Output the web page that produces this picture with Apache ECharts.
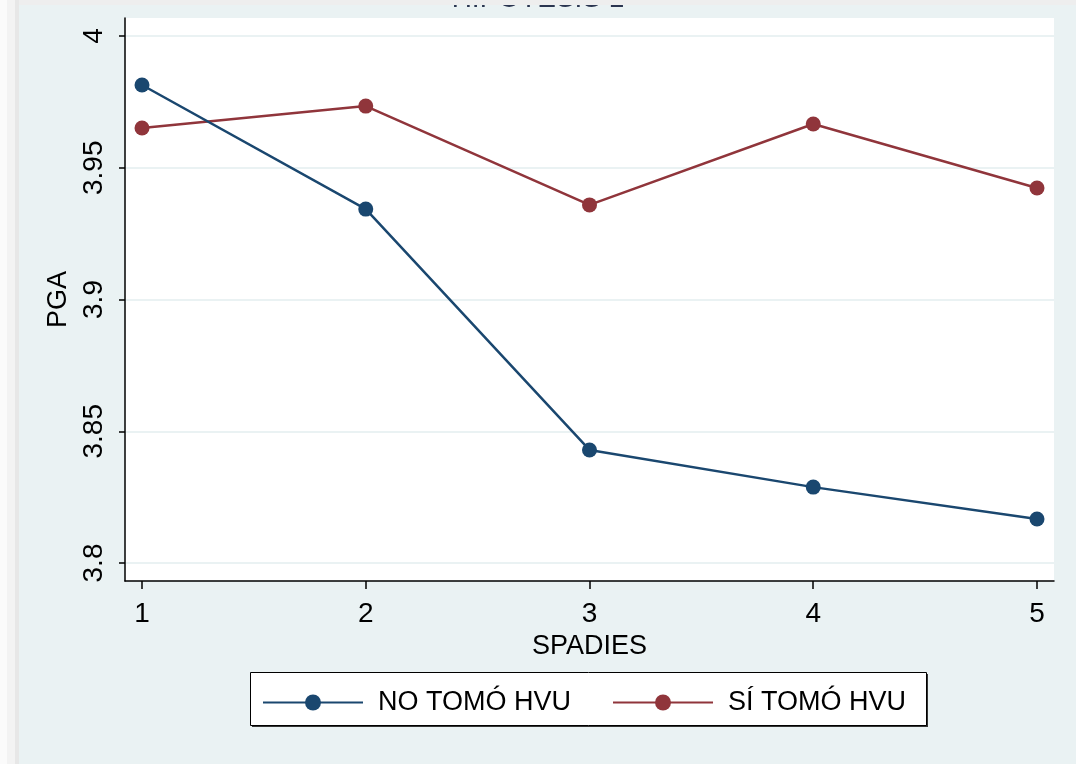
<!DOCTYPE html>
<html>
<head>
<meta charset="utf-8">
<script src="https://cdn.jsdelivr.net/npm/echarts@6/dist/echarts.min.js"></script>
<style>
html,body{margin:0;padding:0;width:1076px;height:764px;overflow:hidden;}
body{background:linear-gradient(to right,#fbfbfb 0,#fbfbfb 7px,#f3f3f3 7px,#f3f3f3 15px,#e7e7e7 15px,#e7e7e7 19px,#eaf2f3 19px);}
#chart{width:1076px;height:764px;}
</style>
</head>
<body>
<div id="chart"></div>
<script>
const title = 'HIPÓTESIS 1';
const categories = [1, 2, 3, 4, 5];
const seriesNames = ['NO TOMÓ HVU', 'SÍ TOMÓ HVU'];
const noTomo = [3.9814, 3.9343, 3.8429, 3.8288, 3.8167];
const siTomo = [3.9651, 3.9734, 3.9359, 3.9666, 3.9423];
const yTicks = [3.8, 3.85, 3.9, 3.95, 4];
const xTicks = [1, 2, 3, 4, 5];
const yTitle = 'PGA';
const xTitle = 'SPADIES';

const font = 'Liberation Sans, Arial, sans-serif';
const chart = echarts.init(document.getElementById('chart'), null, {renderer: 'canvas'});

function pairs(vals) { return categories.map((c, i) => [c, vals[i]]); }

chart.setOption({
  backgroundColor: 'transparent',
  animation: false,
  title: {
    text: title,
    left: 'center',
    top: -20,
    textStyle: {fontFamily: font, fontSize: 28, fontWeight: 'normal', color: '#2a3550'}
  },
  grid: {
    left: 125, right: 22, top: 18, bottom: 183,
    show: true, backgroundColor: '#ffffff', borderWidth: 0,
    containLabel: false
  },
  xAxis: {
    type: 'value',
    min: 0.924, max: 5.076,
    name: xTitle,
    nameLocation: 'middle',
    nameGap: 45,
    nameTextStyle: {fontFamily: font, fontSize: 27, color: '#000'},
    axisLine: {show: true, onZero: false, lineStyle: {color: '#000', width: 1.5}},
    axisTick: {show: true, length: 8, lineStyle: {color: '#000', width: 1.5}, customValues: xTicks},
    axisLabel: {fontFamily: font, fontSize: 28, color: '#000', margin: 19, customValues: xTicks},
    splitLine: {show: false}
  },
  yAxis: {
    type: 'value',
    min: 3.79317, max: 4.00683,
    name: yTitle,
    nameLocation: 'middle',
    nameGap: 33,
    nameRotate: 90,
    nameTextStyle: {fontFamily: font, fontSize: 27, color: '#000'},
    axisLine: {show: true, onZero: false, lineStyle: {color: '#000', width: 1.5}},
    axisTick: {show: true, length: 6, lineStyle: {color: '#000', width: 1.5}, customValues: yTicks},
    axisLabel: {fontFamily: font, fontSize: 28, color: '#000', margin: 17, rotate: 90, customValues: yTicks,
      formatter: v => String(+v.toFixed(2))},
    splitLine: {show: true, lineStyle: {color: '#eaf2f3', width: 2}}
  },
  legend: {
    data: seriesNames,
    left: 257,
    top: 684,
    itemWidth: 100,
    itemHeight: 20,
    itemGap: 41,
    textStyle: {fontFamily: font, fontSize: 27, color: '#000', padding: [0, 0, 0, 10]}
  },
  series: [
    {
      name: seriesNames[0], type: 'line', data: pairs(noTomo),
      symbol: 'circle', symbolSize: 15,
      color: '#1a476f',
      lineStyle: {color: '#1a476f', width: 2.5},
      itemStyle: {color: '#1a476f'},
      z: 3
    },
    {
      name: seriesNames[1], type: 'line', data: pairs(siTomo),
      symbol: 'circle', symbolSize: 15,
      color: '#90353b',
      lineStyle: {color: '#90353b', width: 2.5},
      itemStyle: {color: '#90353b'},
      z: 2
    }
  ],
  graphic: [
    {type: 'rect', shape: {x: 19, y: 0, width: 1057, height: 5}, style: {fill: '#eeeeee'}, z: 100, silent: true},
    {type: 'rect', shape: {x: 252, y: 674, width: 676, height: 53}, style: {fill: '#333'}, z: -2, silent: true},
    {type: 'rect', shape: {x: 250.5, y: 672.5, width: 676, height: 53}, style: {fill: '#ffffff', stroke: '#000', lineWidth: 1}, z: -1, silent: true}
  ]
});
</script>
</body>
</html>
